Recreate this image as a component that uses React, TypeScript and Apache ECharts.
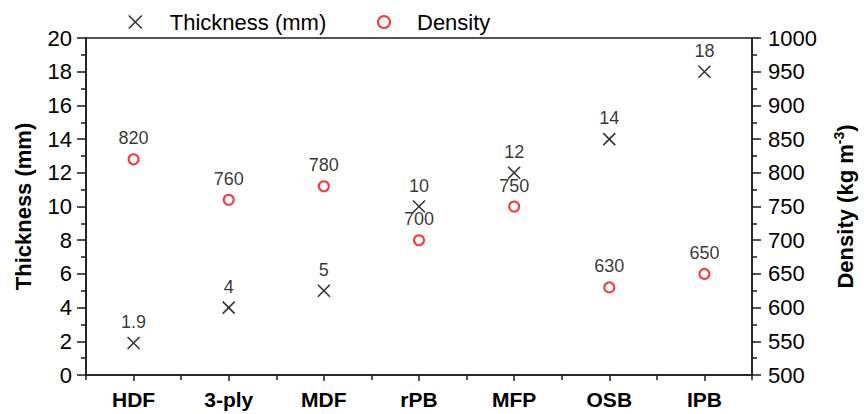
import React, { useEffect, useRef } from "react";
import * as echarts from "echarts";

const categories = ["HDF", "3-ply", "MDF", "rPB", "MFP", "OSB", "IPB"];
const thickness = [1.9, 4, 5, 10, 12, 14, 18];
const density = [820, 760, 780, 700, 750, 630, 650];
const thicknessTicks = { min: 0, max: 20, interval: 2 };
const densityTicks = { min: 500, max: 1000, interval: 50 };

const FONT = '"Liberation Sans", Arial, sans-serif';
const CROSS = "path://M0,0L10,10M10,0L0,10";
const AX = "#1a1a1a";

export default function App() {
  const ref = useRef<HTMLDivElement>(null);
  useEffect(() => {
    if (!ref.current) return;
    const chart = echarts.init(ref.current, null, { renderer: "svg" });
    chart.setOption({
      animation: false,
      backgroundColor: "#fff",
      textStyle: { fontFamily: FONT, color: "#000" },
      legend: [
        {
          left: 123,
          top: 6,
          itemWidth: 13,
          itemHeight: 13,
          data: [
            {
              name: "Thickness (mm)",
              icon: CROSS,
              itemStyle: { color: "transparent", borderColor: "#000", borderWidth: 1.6 },
            },
          ],
          textStyle: { fontSize: 22, fontFamily: FONT, color: "#000", padding: [0, 0, 0, 23] },
        },
        {
          left: 372,
          top: 6,
          itemWidth: 12,
          itemHeight: 12,
          data: [
            {
              name: "Density",
              icon: "circle",
              itemStyle: { color: "transparent", borderColor: "#ff0000", borderWidth: 2 },
            },
          ],
          textStyle: { fontSize: 22, fontFamily: FONT, color: "#000", padding: [0, 0, 0, 22] },
        },
      ],
      grid: {
        left: 86,
        right: 106,
        top: 38,
        bottom: 39,
        show: true,
        borderColor: AX,
        borderWidth: 1.5,
        backgroundColor: "transparent",
      },
      xAxis: [
        {
          type: "category",
          data: categories,
          boundaryGap: true,
          axisLine: { show: true, lineStyle: { color: AX, width: 1.5 } },
          axisTick: { show: true, alignWithLabel: true, length: 6, lineStyle: { color: AX, width: 1.5 } },
          axisLabel: { fontSize: 21, fontWeight: "bold", color: "#000", fontFamily: FONT, margin: 14 },
          splitLine: { show: false },
        },
        {
          type: "category",
          data: categories,
          boundaryGap: true,
          position: "bottom",
          axisLine: { show: false },
          axisTick: { show: true, alignWithLabel: false, length: 5, lineStyle: { color: AX, width: 1.5 } },
          axisLabel: { show: false },
          splitLine: { show: false },
        },
      ],
      yAxis: [
        {
          type: "value",
          position: "left",
          min: thicknessTicks.min,
          max: thicknessTicks.max,
          interval: thicknessTicks.interval,
          name: "Thickness (mm)",
          nameLocation: "middle",
          nameGap: 52,
          nameTextStyle: { fontSize: 22, fontWeight: "bold", color: "#000", fontFamily: FONT },
          axisLine: { show: true, lineStyle: { color: AX, width: 1.5 } },
          axisTick: { show: true, length: 9, lineStyle: { color: AX, width: 1.5 } },
          minorTick: { show: true, splitNumber: 2, length: 5, lineStyle: { color: AX, width: 1.5 } },
          axisLabel: { fontSize: 22, color: "#000", fontFamily: FONT, margin: 14 },
          splitLine: { show: false },
        },
        {
          type: "value",
          position: "right",
          min: densityTicks.min,
          max: densityTicks.max,
          interval: densityTicks.interval,
          name: "{a|Density (kg m}{s|-3}{a|)}",
          nameLocation: "middle",
          nameGap: 80,
          nameTextStyle: {
            rich: {
              a: { fontSize: 22, fontWeight: "bold", color: "#000", fontFamily: FONT },
              s: { fontSize: 14, fontWeight: "bold", color: "#000", fontFamily: FONT, padding: [0, 0, 12, 0] },
            },
          },
          axisLine: { show: true, lineStyle: { color: AX, width: 1.5 } },
          axisTick: { show: true, length: 9, lineStyle: { color: AX, width: 1.5 } },
          minorTick: { show: true, splitNumber: 2, length: 5, lineStyle: { color: AX, width: 1.5 } },
          axisLabel: {
            fontSize: 22,
            color: "#000",
            fontFamily: FONT,
            margin: 16,
            formatter: (v: number) => String(v),
          },
          splitLine: { show: false },
        },
      ],
      series: [
        {
          name: "Thickness (mm)",
          type: "scatter",
          xAxisIndex: 0,
          yAxisIndex: 0,
          data: thickness,
          symbol: CROSS,
          symbolSize: 12,
          itemStyle: { color: "transparent", borderColor: "#000", borderWidth: 1.6 },
          label: { show: true, position: "top", distance: 5, fontSize: 18, color: "#000", fontFamily: FONT },
          z: 3,
        },
        {
          name: "Density",
          type: "scatter",
          xAxisIndex: 0,
          yAxisIndex: 1,
          data: density,
          symbol: "circle",
          symbolSize: 10,
          itemStyle: { color: "transparent", borderColor: "#ff0000", borderWidth: 2 },
          label: { show: true, position: "top", distance: 6, fontSize: 18, color: "#000", fontFamily: FONT },
          z: 2,
        },
      ],
    });
    return () => chart.dispose();
  }, []);
  return (
    <div
      ref={ref}
      style={{ position: "fixed", left: 0, top: 0, width: 864, height: 414 }}
    />
  );
}
